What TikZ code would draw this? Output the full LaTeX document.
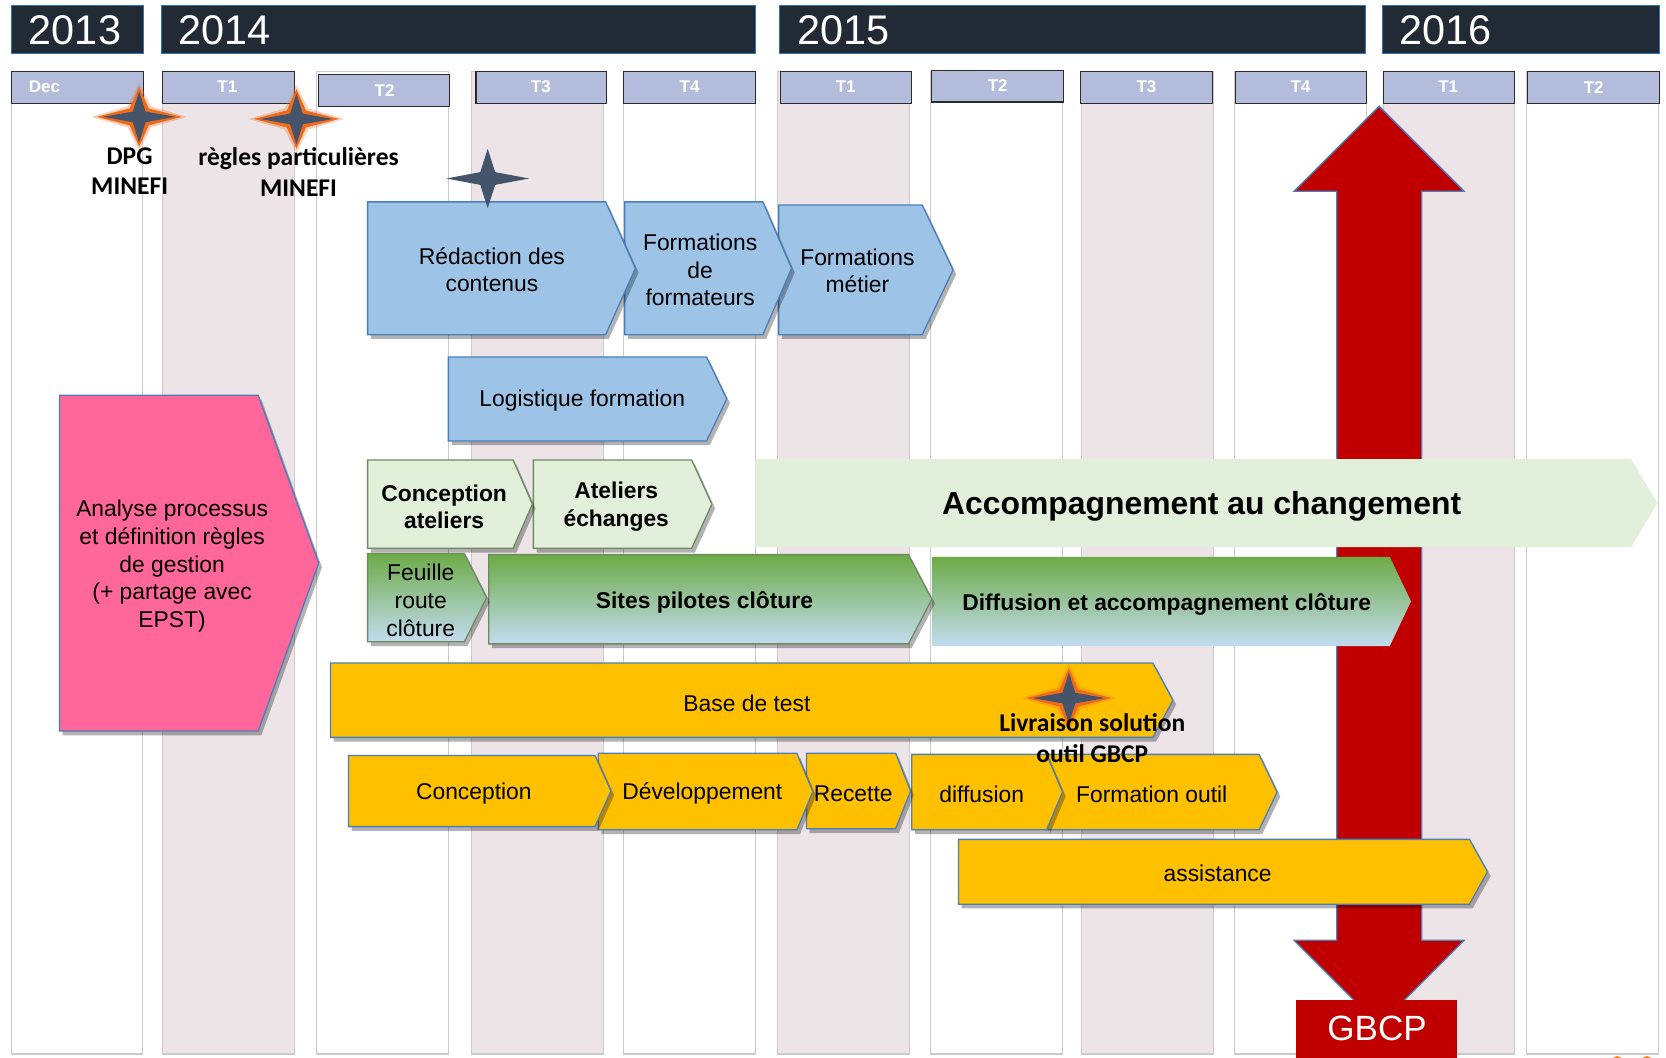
\documentclass[tikz,border=0pt]{standalone}
\usepackage{fontspec}
\setmainfont{Liberation Sans}
\newfontfamily\calfont{Carlito}
\usetikzlibrary{shadows}
\definecolor{yearbg}{HTML}{222A35}
\definecolor{yearline}{HTML}{2E75B6}
\definecolor{hdrfill}{HTML}{B3BDDB}
\definecolor{hdrline}{HTML}{2B2B2B}
\definecolor{colpinkc}{HTML}{EDE4E7}
\definecolor{colline}{HTML}{CBCBCB}
\definecolor{barblue}{HTML}{9DC3E6}
\definecolor{barline}{HTML}{4A7EBB}
\definecolor{barpink}{HTML}{FF6699}
\definecolor{lgreen}{HTML}{E2EFDA}
\definecolor{lgline}{HTML}{6F8A60}
\definecolor{gtop}{HTML}{6DAB47}
\definecolor{gmid}{HTML}{9CC5A6}
\definecolor{gbot}{HTML}{C3DCF0}
\definecolor{gold}{HTML}{FFC000}
\definecolor{redc}{HTML}{C00000}
\definecolor{starcore}{HTML}{44546A}
\definecolor{starglow}{HTML}{F06A1C}
\tikzset{
  yearbox/.style={fill=yearbg, draw=yearline, line width=1pt},
  hdrbox/.style={fill=hdrfill, draw=hdrline, line width=1pt},
  colw/.style={fill=white, draw=colline, line width=1pt},
  colp/.style={fill=colpinkc, draw=colline, line width=1pt},
  shd/.style={drop shadow={shadow xshift=3pt, shadow yshift=-4pt, opacity=.3, fill=black}},
  bluebar/.style={fill=barblue, draw=barline, line width=1.2pt, shd},
  pinkbar/.style={fill=barpink, draw=barline, line width=1.2pt, shd},
  greenbar/.style={fill=lgreen, draw=lgline, line width=1.2pt, shd},
  flatgreen/.style={fill=lgreen},
  gradbar/.style={top color=gtop, middle color=gmid, bottom color=gbot, draw=lgline, line width=1.2pt, shd},
  gradflat/.style={top color=gtop, middle color=gmid, bottom color=gbot},
  goldbar/.style={fill=gold, draw=barline, line width=1.2pt, shd},
  redarrow/.style={fill=redc, draw=barline, line width=1.2pt},
  yeartxt/.style={text=white, inner sep=0pt, anchor=base west, font=\fontsize{39}{40}\selectfont},
  hdrtxt/.style={text=white, inner sep=0pt, font=\bfseries\fontsize{16}{18}\selectfont},
  txt/.style={inner sep=0pt, align=center, yshift=-2pt, font=\fontsize{21.5}{26}\selectfont},
  btxt/.style={inner sep=0pt, align=center, yshift=-2pt, font=\bfseries\fontsize{21.5}{26}\selectfont},
  startxt/.style={inner sep=0pt, align=center, font=\calfont\bfseries\fontsize{24}{29}\selectfont},
}
\newcommand\pent[6]{\path[#1] (#2,#5) -- (#3,#5) -- (#4,{(#5+#6)/2}) -- (#3,#6) -- (#2,#6) -- cycle;}
\newcommand\sparkle[3]{%
  \begin{scope}[shift={(#1,#2)}]
    \ifx#3g
    \fill[starglow, opacity=.3] (-45,0) -- (-11,-10) -- (0,-32) -- (11,-10) -- (45,0) -- (11,10) -- (0,32) -- (-11,10) -- cycle;
    \fill[starglow] (-40,0) -- (-9,-8) -- (0,-28) -- (9,-8) -- (40,0) -- (9,8) -- (0,28) -- (-9,8) -- cycle;
    \fill[starcore] (-34,0) -- (-6,-5) -- (0,-24) -- (6,-5) -- (34,0) -- (6,5) -- (0,24) -- (-6,5) -- cycle;
    \else
    \fill[starcore] (-39,0) -- (-7,-6) -- (0,-28) -- (7,-6) -- (39,0) -- (7,6) -- (0,28) -- (-7,6) -- cycle;
    \fi
  \end{scope}}
\begin{document}
\begin{tikzpicture}[x=1pt, y=-1pt]
\useasboundingbox (0,0) rectangle (1568,995);
\clip (0,0) rectangle (1568,995);
\fill[white] (0,0) rectangle (1568,995);
% columns
\path[colw] (11,67) rectangle (134,992);
\path[colp] (153,67) rectangle (277,992);
\path[colw] (298,67) rectangle (422,992);
\path[colp] (444,67) rectangle (568,992);
\path[colw] (587,67) rectangle (711,992);
\path[colp] (732,67) rectangle (856,992);
\path[colw] (876,67) rectangle (1000,992);
\path[colp] (1018,67) rectangle (1142,992);
\path[colw] (1162,67) rectangle (1286,992);
\path[colp] (1302,67) rectangle (1425,992);
\path[colw] (1437,67) rectangle (1561,992);
% years
\path[yearbox] (11,5) rectangle (135,50);
\path[yearbox] (152,5) rectangle (711,50);
\path[yearbox] (734,5) rectangle (1285,50);
\path[yearbox] (1301,5) rectangle (1562,50);
\node[yeartxt] (y13) at (27,42) {2013};
\node[yeartxt] (y14) at (168,42) {2014};
\node[yeartxt] (y15) at (750,42) {2015};
\node[yeartxt] (y16) at (1317,42) {2016};
% quarter headers
\path[hdrbox] (11,67) rectangle (135,97);
\path[hdrbox] (153,67) rectangle (277,97);
\path[hdrbox] (300,70) rectangle (423,100);
\path[hdrbox] (448,67) rectangle (571,97);
\path[hdrbox] (587,67) rectangle (711,97);
\path[hdrbox] (735,67) rectangle (858,97);
\path[hdrbox] (877,66) rectangle (1001,96);
\path[hdrbox] (1017,67) rectangle (1141,97);
\path[hdrbox] (1163,67) rectangle (1286,97);
\path[hdrbox] (1302,67) rectangle (1425,97);
\path[hdrbox] (1438,67) rectangle (1562,97);
\node[hdrtxt, anchor=west] (qdec) at (27,82) {Dec};
\node[hdrtxt] (q41) at (214,82) {T1};
\node[hdrtxt] (q42) at (362,85) {T2};
\node[hdrtxt] (q43) at (509,82) {T3};
\node[hdrtxt] (q44) at (649,82) {T4};
\node[hdrtxt] (q51) at (796,82) {T1};
\node[hdrtxt] (q52) at (939,81) {T2};
\node[hdrtxt] (q53) at (1079,82) {T3};
\node[hdrtxt] (q54) at (1224,82) {T4};
\node[hdrtxt] (q61) at (1363,82) {T1};
\node[hdrtxt] (q62) at (1500,82) {T2};
% red double arrow
\path[redarrow] (1298,100) -- (1378,180) -- (1338,180) -- (1338,885) -- (1378,885) -- (1298,965)
  -- (1218,885) -- (1258,885) -- (1258,180) -- (1218,180) -- cycle;
% blue bars
\pent{bluebar}{733}{868}{897}{193}{315}
\pent{bluebar}{588}{718}{745}{190}{315}
\pent{bluebar}{346}{570}{598}{190}{315}
\pent{bluebar}{422}{665}{684}{336}{415}
\node[txt] (redac) at (463,252) {Rédaction des\\contenus};
\node[txt] (fdf) at (659,252) {Formations\\de\\formateurs};
\node[txt] (fmet) at (807,253) {Formations\\métier};
\node[txt] (logi) at (548,375) {Logistique formation};
% pink
\pent{pinkbar}{56}{243}{300}{372}{688}
\node[txt] (analyse) at (162,531) {Analyse processus\\et définition règles\\de gestion\\(+ partage avec\\EPST)};
% light green row
\pent{flatgreen}{711}{1535}{1560}{432}{515}
\pent{greenbar}{502}{651}{670}{433}{516}
\pent{greenbar}{346}{483}{501}{433}{516}
\node[btxt] (concat) at (418,475) {Conception\\ateliers};
\node[btxt] (atel) at (580,475) {Ateliers\\échanges};
\node[inner sep=0pt, yshift=-3pt, font=\bfseries\fontsize{30}{34}\selectfont] (accomp) at (1131,474) {Accompagnement au changement};
% gradient row
\pent{gradflat}{877}{1308}{1328}{524}{608}
\pent{gradbar}{460}{855}{877}{522}{606}
\pent{gradbar}{346}{437}{458}{521}{604}
\node[txt] (feuille) at (396,563) {Feuille\\route\\clôture};
\node[btxt] (sites) at (663,565) {Sites pilotes clôture};
\node[btxt] (diffacc) at (1098,567) {Diffusion et accompagnement clôture};
% gold rows
\pent{goldbar}{311}{1085}{1104}{624}{694}
\pent{goldbar}{985}{1185}{1202}{710}{781}
\pent{goldbar}{858}{985}{1000}{710}{781}
\pent{goldbar}{759}{843}{857}{709}{780}
\pent{goldbar}{563}{750}{765}{709}{781}
\pent{goldbar}{328}{560}{575}{711}{778}
\pent{goldbar}{902}{1383}{1400}{790}{851}
\node[txt] (base) at (703,660) {Base de test};
\node[txt] (conc) at (446,745) {Conception};
\node[txt] (dev) at (661,745) {Développement};
\node[txt] (rec) at (803,745) {Recette};
\node[txt] (diffu) at (924,746) {diffusion};
\node[txt] (formo) at (1084,746) {Formation outil};
\node[txt] (assist) at (1146,820) {assistance};
% GBCP box
\fill[redc] (1220,941) rectangle (1371,1000);
\node[text=white, inner sep=0pt, font=\fontsize{33}{36}\selectfont] (gbcp) at (1296,968) {GBCP};
% stars and milestones
\sparkle{131}{110}{g}
\sparkle{279}{112}{g}
\sparkle{459}{168}{n}
\sparkle{1006}{657}{g}
\node[startxt] (dpg) at (122,161) {DPG\\MINEFI};
\node[startxt] (regles) at (281,162) {règles particulières\\MINEFI};
\node[startxt] (livr) at (1028,695) {Livraison solution\\outil GBCP};
% cut-off orange marks
\fill[orange!85!red] (1522,999) circle (5);
\fill[orange!85!red] (1550,999) circle (5);
\end{tikzpicture}
\end{document}
